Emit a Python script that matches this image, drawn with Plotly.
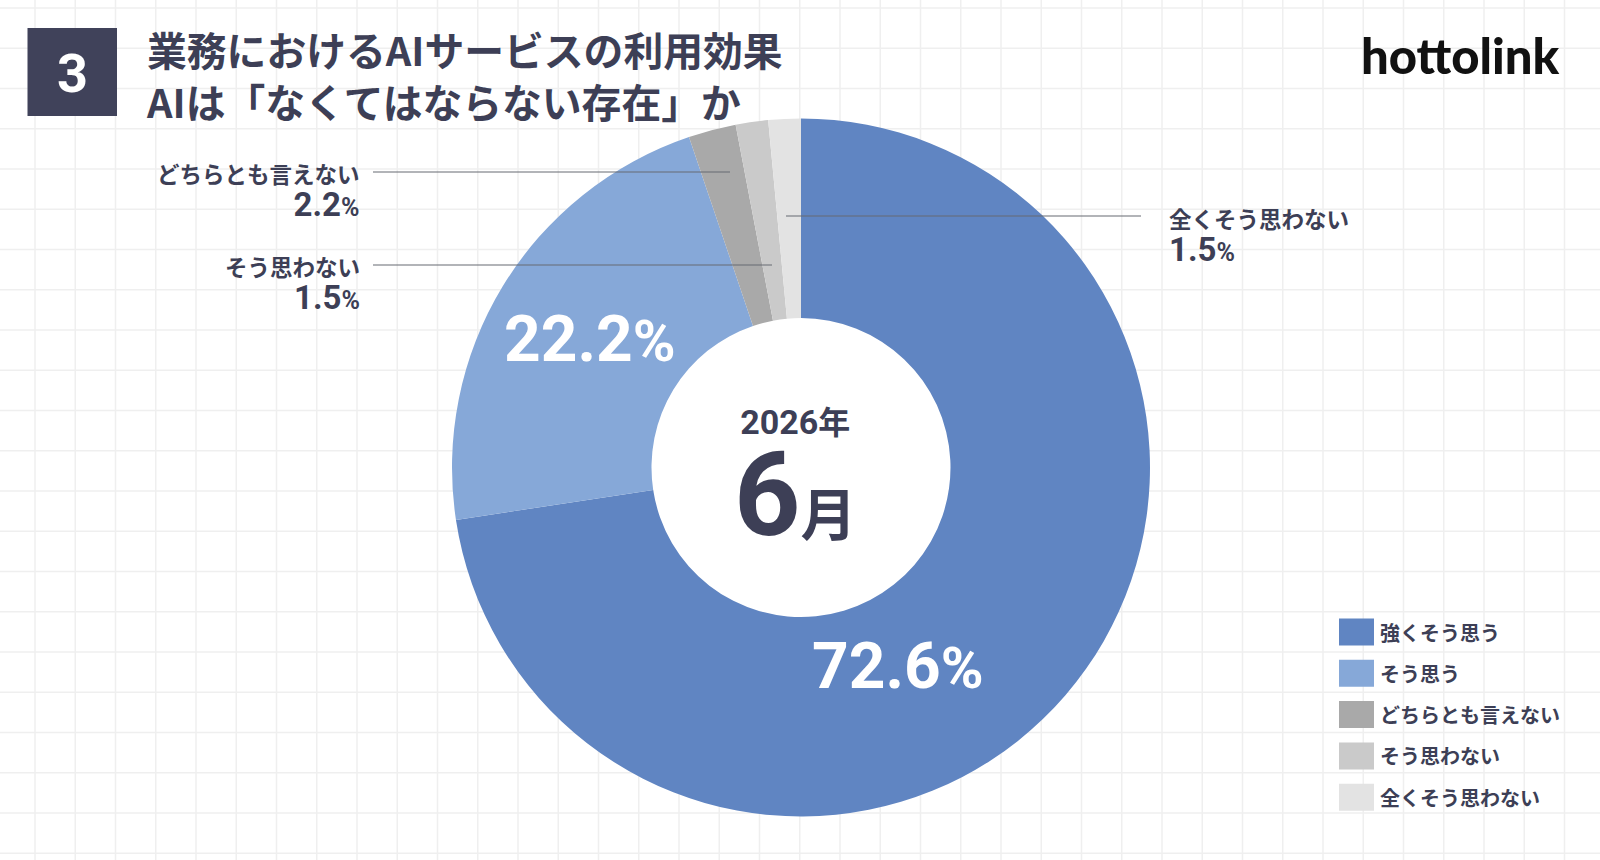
import plotly.graph_objects as go

# ---- data ----
categories = ["強くそう思う", "そう思う", "どちらとも言えない", "そう思わない", "全くそう思わない"]
values = [72.6, 22.2, 2.2, 1.5, 1.5]
colors = ["#6085c2", "#86a8d8", "#a9a9a9", "#cacaca", "#e3e3e3"]

title_lines = ["業務におけるAIサービスの利用効果", "AIは「なくてはならない存在」か"]
badge = "3"
logo = "hottolink"
center_year = "2026年"
center_month_num = "6"
center_month_unit = "月"

W, H = 1600, 860
INK = "#3d3f56"
JP = "Noto Sans CJK JP"
NUM = "Roboto"


def px(x):
    return x / W


def py(y):
    return 1 - y / H


# donut geometry (pixels)
cx, cy, R, r_in = 801, 467.5, 349, 149.5

fig = go.Figure()
fig.add_trace(go.Pie(
    labels=categories, values=values,
    marker=dict(colors=colors, line=dict(width=0)),
    sort=False, direction="clockwise", rotation=0,
    hole=r_in / R, textinfo="none", hoverinfo="label+percent",
    showlegend=False,
    domain=dict(x=[px(cx - R), px(cx + R)], y=[py(cy + R), py(cy - R)]),
))

shapes = []
# graph-paper grid
gx = 35.0
while gx < W:
    shapes.append(dict(type="line", xref="paper", yref="paper", x0=px(gx), x1=px(gx), y0=0, y1=1,
                       line=dict(color="#efefef", width=1.5), layer="below"))
    gx += 40.25
gy = 8.0
while gy < H:
    shapes.append(dict(type="line", xref="paper", yref="paper", x0=0, x1=1, y0=py(gy), y1=py(gy),
                       line=dict(color="#efefef", width=1.5), layer="below"))
    gy += 40.25
# white hole
shapes.append(dict(type="circle", xref="paper", yref="paper",
                   x0=px(cx - r_in), x1=px(cx + r_in), y0=py(cy + r_in), y1=py(cy - r_in),
                   fillcolor="white", line=dict(width=0), layer="below"))
# badge box
shapes.append(dict(type="rect", xref="paper", yref="paper", x0=px(27.5), x1=px(117), y0=py(116), y1=py(28),
                   fillcolor="#40425a", line=dict(width=0), layer="above"))
# leader lines
leaders = [(373, 172, 730, 172), (373, 265, 772, 265), (786, 216, 1141, 216)]
for x0, y0, x1, y1 in leaders:
    shapes.append(dict(type="line", xref="paper", yref="paper", x0=px(x0), x1=px(x1), y0=py(y0), y1=py(y1),
                       line=dict(color="#666a72", width=1.2), layer="above"))

# legend squares
leg_y0 = 632
leg_dy = 41.3
for i, c in enumerate(colors):
    yc = leg_y0 + i * leg_dy
    shapes.append(dict(type="rect", xref="paper", yref="paper", x0=px(1339), x1=px(1374),
                       y0=py(yc + 13.5), y1=py(yc - 13.5), fillcolor=c, line=dict(width=0), layer="above"))

ann = []


def A(text, x, y, size, color=INK, family=JP, xanchor="center", yanchor="middle", weight=700, align=None):
    ann.append(dict(text=text, x=px(x), y=py(y), xref="paper", yref="paper", showarrow=False,
                    xanchor=xanchor, yanchor=yanchor, align=align or xanchor,
                    font=dict(size=size, color=color, family=family, weight=weight)))


# badge + title + logo
A(badge, 72.5, 73, 54, color="white", family=NUM)
A("<br>".join(title_lines), 144, 74.5, 39.8, xanchor="left")
A(logo, 1460, 55, 49, color="#111111", family="Lato", weight=900)


def pct(v, small):
    return f"{v}<span style='font-size:{small}px'>%</span>"


# inner percentages
A(pct(values[0], 58), 898, 666, 64, color="white", family=NUM, weight=700)
A(pct(values[1], 58), 590, 339, 64, color="white", family=NUM, weight=700)


# outside labels (name + value in one two-line text)
def outside(i):
    return (f"<span style='font-size:22.5px'>{categories[i]}</span><br>"
            f"<span style='font-family:{NUM};font-size:33px'>{values[i]}</span>"
            f"<span style='font-family:{NUM};font-size:25px'>%</span>")


A(outside(2), 362, 191, 25, xanchor="right")
A(outside(3), 362, 283, 25, xanchor="right")
A(outside(4), 1167, 236, 25, xanchor="left")

# center text
A(f"<span style='font-family:{NUM};font-size:34px'>2026</span><span style='font-size:32px'>年</span><br>"
  f"<span style='font-family:{NUM};font-size:116px'>{center_month_num}</span>"
  f"<span style='font-size:56px'>{center_month_unit}</span>",
  795, 480, 78, xanchor="center")

# legend labels
for i, cat in enumerate(categories):
    A(cat, 1378, leg_y0 + i * leg_dy, 20, xanchor="left")

fig.update_layout(
    width=W, height=H, margin=dict(l=0, r=0, t=0, b=0),
    paper_bgcolor="white", plot_bgcolor="white",
    shapes=shapes, annotations=ann, showlegend=False,
)

fig.write_html("out.html")
